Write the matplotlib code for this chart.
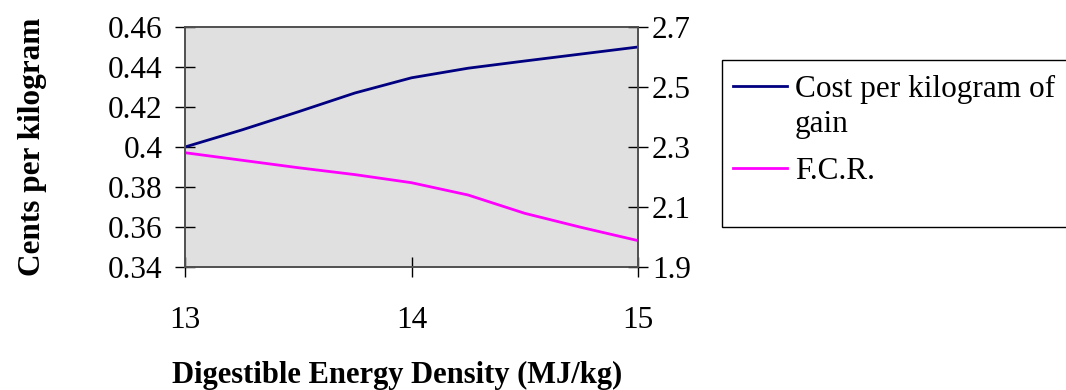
import matplotlib
matplotlib.use("Agg")
import matplotlib.pyplot as plt
from matplotlib.patches import Rectangle
from matplotlib.lines import Line2D

plt.rcParams["font.family"] = ["Liberation Serif", "DejaVu Serif"]

# Digestible energy density (MJ/kg)
energia = [13.0, 13.25, 13.5, 13.75, 14.0, 14.25, 14.5, 14.75, 15.0]
# Cost per kilogram of gain (left axis)
costo = [0.400, 0.4085, 0.4176, 0.4270, 0.4346, 0.4394, 0.4430, 0.4465, 0.4500]
# Feed conversion ratio (right axis)
fcr = [2.281, 2.256, 2.231, 2.208, 2.181, 2.140, 2.079, 2.032, 1.988]

ticks_x = [13, 14, 15]
ticks_izq = [0.34, 0.36, 0.38, 0.40, 0.42, 0.44, 0.46]
etiquetas_izq = ["0.34", "0.36", "0.38", "0.4", "0.42", "0.44", "0.46"]
ticks_der = [1.9, 2.1, 2.3, 2.5, 2.7]

W, H = 1066, 390
fs = 22.5
fig = plt.figure(figsize=(W / 100, H / 100), dpi=100)

ax = fig.add_axes([185 / W, 1 - 267 / H, 453 / W, 240 / H])
ax.set_facecolor("#e0e0e0")
ax2 = ax.twinx()

l1, = ax.plot(energia, costo, color="#000080", linewidth=2.0)
l2, = ax2.plot(energia, fcr, color="#ff00ff", linewidth=2.0)

ax.set_xlim(13, 15)
ax.set_ylim(0.34, 0.46)
ax2.set_ylim(1.9, 2.7)

ax.set_xticks(ticks_x)
ax.set_xticklabels([str(t) for t in ticks_x])
ax.set_yticks(ticks_izq)
ax.set_yticklabels(etiquetas_izq)
ax2.set_yticks(ticks_der)
ax2.set_yticklabels([f"{t:.1f}" for t in ticks_der])

for a in (ax, ax2):
    for s in a.spines.values():
        s.set_color("#505050")
        s.set_linewidth(1.2)
    a.tick_params(labelsize=fs, direction="inout", length=14, width=1.0, color="black")
ax.tick_params(axis="x", pad=21)
ax.tick_params(axis="y", pad=9)
ax2.tick_params(axis="y", pad=3)

ax.set_ylabel("Cents per kilogram", fontsize=fs, fontweight="bold", labelpad=44)
ax.set_xlabel("Digestible Energy Density (MJ/kg)", fontsize=22, fontweight="bold")
ax.xaxis.set_label_coords((397 - 185) / 453, -(375 - 267) / 240)
ax.xaxis.label.set_va("center")

# legend, drawn by hand so each key sits on the first line of its label
px = lambda x, y: (x / W, 1 - y / H)
fig.add_artist(Rectangle(px(722, 227), (W + 20 - 722) / W, 167 / H,
                         transform=fig.transFigure, facecolor="white",
                         edgecolor="black", linewidth=1.0, clip_on=False))
entradas = [(l1, ["Cost per kilogram of", "gain"], 86, 97),
            (l2, ["F.C.R."], 168, 179)]
for linea, renglones, y_clave, y_base in entradas:
    x0, y0 = px(733, y_clave)
    x1, _ = px(787, y_clave)
    fig.add_artist(Line2D([x0, x1], [y0, y0], transform=fig.transFigure,
                          color=linea.get_color(), linewidth=2.0))
    for i, r in enumerate(renglones):
        fig.text(*px(795, y_base + 35 * i), r, fontsize=fs, va="baseline", ha="left")

fig.savefig("out.png", dpi=100)
